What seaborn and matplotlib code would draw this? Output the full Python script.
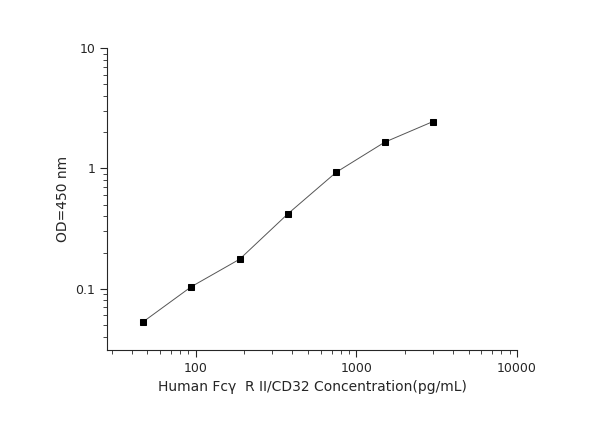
import numpy
import seaborn
import matplotlib.pyplot as plt
from matplotlib.ticker import FixedLocator, LogLocator, NullFormatter

# concentration (pg/mL) and OD readings
conc = [46.875, 93.75, 187.5, 375, 750, 1500, 3000]
od = [0.053, 0.104, 0.176, 0.42, 0.93, 1.65, 2.45]

seaborn.set_style("ticks")
plt.rcParams['font.family'] = ['DejaVu Sans']

fig = plt.figure(figsize=(6, 4.21), dpi=100)
ax = fig.add_axes([107/600, 1-350/421, 410/600, 302/421])

seaborn.lineplot(x=conc, y=od, ax=ax, color="#555555", linewidth=0.7,
                 marker="s", markersize=5, markerfacecolor="black",
                 markeredgecolor="black")

ax.set_xscale("log")
ax.set_yscale("log")
ax.set_xlim(28, 10000)
ax.set_ylim(0.031, 10)
ax.xaxis.set_major_locator(FixedLocator([100, 1000, 10000]))
ax.set_xticklabels(["100", "1000", "10000"])
ax.yaxis.set_major_locator(FixedLocator([0.1, 1, 10]))
ax.set_yticklabels(["0.1", "1", "10"])
ax.xaxis.set_minor_locator(LogLocator(base=10, subs=numpy.arange(2, 10)))
ax.yaxis.set_minor_locator(LogLocator(base=10, subs=numpy.arange(2, 10)))
ax.xaxis.set_minor_formatter(NullFormatter())
ax.yaxis.set_minor_formatter(NullFormatter())
ax.tick_params(which="major", length=5, width=0.8, labelsize=9)
ax.tick_params(which="minor", length=3, width=0.6)
for s in ["top", "right"]:
    ax.spines[s].set_visible(False)

ax.set_xlabel("Human Fcγ  R II/CD32 Concentration(pg/mL)", fontsize=10)
ax.set_ylabel("OD=450 nm", fontsize=10)

fig.savefig("out.png", dpi=100)
